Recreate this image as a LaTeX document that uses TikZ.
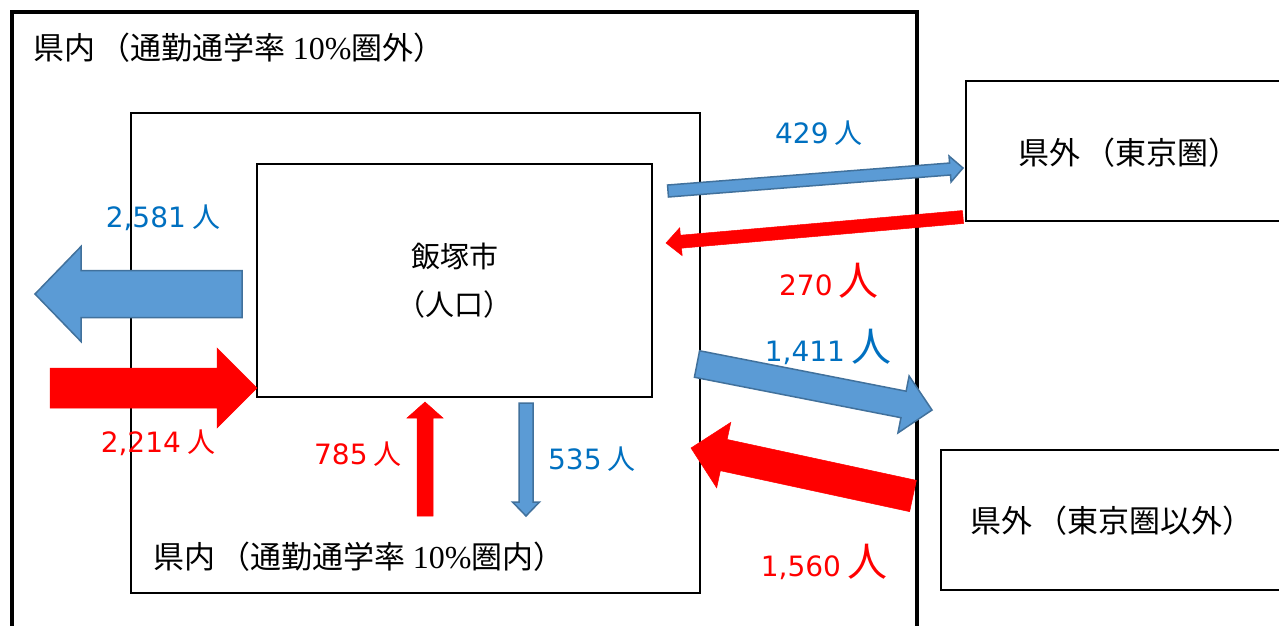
\documentclass[tikz,border=0pt]{standalone}
\usepackage{fontspec}
\setmainfont[Kerning=Off]{Noto Sans CJK JP}
\newfontfamily\numfont{DejaVu Sans}
\newfontfamily\latinserif{Liberation Serif}
\usetikzlibrary{calc}

\definecolor{flowblue}{HTML}{5B9BD5}
\definecolor{flowedge}{HTML}{41719C}
\definecolor{textblue}{HTML}{0070C0}

% gap before an opening bracket
\newcommand{\kgap}{\hspace{0.15em}}

% block arrow: #1 style, #2 tail, #3 tip, #4 half shaft, #5 half head, #6 head length
\newcommand{\flowarrow}[6]{%
	\coordinate (hb) at ($(#3)!#6!(#2)$);
	\draw[#1] ($(#2)!#4!90:(#3)$) -- ($(hb)!#4!-90:(#2)$) -- ($(hb)!#5!-90:(#2)$) -- (#3)
		-- ($(hb)!#5!90:(#2)$) -- ($(hb)!#4!90:(#2)$) -- ($(#2)!#4!-90:(#3)$) -- cycle;
}

\tikzset{
	zone/.style={draw=black, line width=2, inner sep=0},
	zonetext/.style={anchor=west, inner sep=0, font=\fontsize{31}{34}\selectfont},
	outflow/.style={fill=flowblue, draw=flowedge, line width=1.5, line join=miter},
	inflow/.style={fill=red, draw=red, line width=0.5},
	outlabel/.style={text=textblue, inner sep=0, font=\fontsize{28}{32}\selectfont},
	inlabel/.style={text=red, inner sep=0, font=\fontsize{28}{32}\selectfont},
}

\begin{document}
\begin{tikzpicture}[x=1pt, y=-1pt]

	\useasboundingbox[fill=white] (0,0) rectangle (1279,625);

	% areas
	\node[zone, line width=4, minimum width=905, minimum height=628] (kenout) at (464.5,326) {};
	\node[zone, minimum width=569, minimum height=480] (kenin) at (415.5,353) {};
	\node[zone, minimum width=395, minimum height=233, align=center,
		font=\fontsize{29}{48}\selectfont] (city) at (454.5,280.5) {飯塚市\\（人口）};
	\node[zone, line width=2.5, minimum width=330, minimum height=140] (tokyo) at (1131,151) {};
	\node[zone, line width=2.5, minimum width=355, minimum height=140] (other) at (1118.5,520) {};

	\node[zonetext] (kenoutlabel) at (33,48) {県内\kgap（通勤通学率 {\latinserif\fontsize{32}{34}\selectfont 10\%}圏外）};
	\node[zonetext] (keninlabel) at (153,557) {県内\kgap（通勤通学率 {\latinserif\fontsize{32}{34}\selectfont 10\%}圏内）};
	\node[zonetext] (tokyolabel) at (1018,153) {県外\kgap（東京圏）};
	\node[zonetext] (otherlabel) at (970,521) {県外\kgap（東京圏以外）};

	% arrow ends
	\coordinate (A1) at (242,294);  \coordinate (B1) at (35,294);
	\coordinate (A2) at (50,388);   \coordinate (B2) at (257,388);
	\coordinate (A3) at (668,191);  \coordinate (B3) at (963,168);
	\coordinate (A4) at (963,217);  \coordinate (B4) at (666,243);
	\coordinate (A5) at (697,364);  \coordinate (B5) at (932,410);
	\coordinate (A6) at (913,496);  \coordinate (B6) at (691,448);
	\coordinate (A7) at (425,516);  \coordinate (B7) at (425,402);
	\coordinate (A8) at (526,403);  \coordinate (B8) at (526,516);

	% flows
	\flowarrow{outflow}{A1}{B1}{23.5pt}{47.5pt}{46pt}
	\flowarrow{inflow}{A2}{B2}{20pt}{40pt}{40pt}
	\flowarrow{outflow}{A3}{B3}{6pt}{13pt}{13pt}
	\flowarrow{inflow}{A4}{B4}{6.5pt}{14pt}{15pt}
	\flowarrow{outflow}{A5}{B5}{13.5pt}{29pt}{29pt}
	\flowarrow{inflow}{A6}{B6}{16pt}{33.5pt}{33.5pt}
	\flowarrow{inflow}{A7}{B7}{8pt}{18pt}{16pt}
	\flowarrow{outflow}{A8}{B8}{7pt}{13.5pt}{14pt}

	% numbers
	\node[outlabel] (n2581) at (163,218) {{\numfont 2,581} 人};
	\node[inlabel]  (n2214) at (158,443) {{\numfont 2,214} 人};
	\node[outlabel] (n429)  at (819,133) {{\numfont 429} 人};
	\node[inlabel]  (n270)  at (829,281) {{\numfont 270} {\fontsize{40}{40}\selectfont 人}};
	\node[outlabel] (n1411) at (828,347) {{\numfont 1,411} {\fontsize{40}{40}\selectfont 人}};
	\node[inlabel]  (n1560) at (824,562) {{\numfont 1,560} {\fontsize{40}{40}\selectfont 人}};
	\node[inlabel]  (n785)  at (358,454) {{\numfont 785} 人};
	\node[outlabel] (n535)  at (592,459) {{\numfont 535} 人};

\end{tikzpicture}
\end{document}
